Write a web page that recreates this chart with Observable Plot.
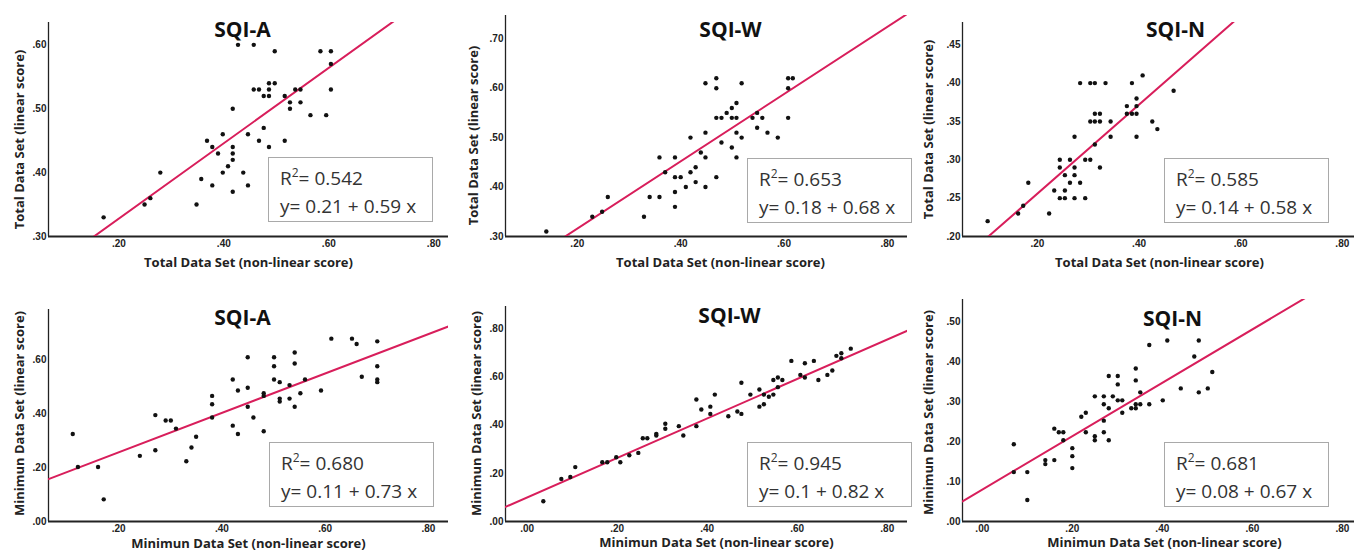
<!DOCTYPE html>
<html>
<head>
<meta charset="utf-8">
<script src="https://cdn.jsdelivr.net/npm/d3@7"></script>
<script src="https://cdn.jsdelivr.net/npm/@observablehq/plot@0.6"></script>
<style>
  body { margin: 0; background: #fff; }
  #chart { position: relative; width: 1354px; height: 552px; overflow: hidden; background: #fff; }
  .panel { position: absolute; }
  .panel svg { display: block; max-width: none; }
  .box { position: absolute; box-sizing: border-box; width: 165px; height: 65px; border: 1px solid #a9a9a9;
         background: #fff; font-family: "Open Sans", sans-serif; font-size: 19px; line-height: 28px;
         padding: 5.5px 0 0 11px; color: #333; white-space: nowrap; }
  .box .sup { font-size: 12px; position: relative; top: -8px; line-height: 0; }
</style>
</head>
<body>
<div id="chart"></div>
<script>
// ---------- data ----------
const panelTitles = ["SQI-A", "SQI-W", "SQI-N", "SQI-A", "SQI-W", "SQI-N"];
const xAxisTitles = [
  "Total Data Set (non-linear score)", "Total Data Set (non-linear score)", "Total Data Set (non-linear score)",
  "Minimun Data Set (non-linear score)", "Minimun Data Set (non-linear score)", "Minimun Data Set (non-linear score)"
];
const yAxisTitles = [
  "Total Data Set (linear score)", "Total Data Set (linear score)", "Total Data Set (linear score)",
  "Minimun Data Set (linear score)", "Minimun Data Set (linear score)", "Minimun Data Set (linear score)"
];
const rSquared = [0.542, 0.653, 0.585, 0.680, 0.945, 0.681];
const intercepts = [0.21, 0.18, 0.14, 0.11, 0.1, 0.08];
const slopes = [0.59, 0.68, 0.58, 0.73, 0.82, 0.67];
const xTicks = [
  [0.2, 0.4, 0.6, 0.8], [0.2, 0.4, 0.6, 0.8], [0.2, 0.4, 0.6, 0.8],
  [0.2, 0.4, 0.6, 0.8], [0, 0.2, 0.4, 0.6, 0.8], [0, 0.2, 0.4, 0.6, 0.8]
];
const yTicks = [
  [0.3, 0.4, 0.5, 0.6], [0.3, 0.4, 0.5, 0.6, 0.7], [0.2, 0.25, 0.3, 0.35, 0.4, 0.45],
  [0, 0.2, 0.4, 0.6], [0, 0.2, 0.4, 0.6, 0.8], [0, 0.1, 0.2, 0.3, 0.4, 0.5]
];

// Total Data Set, SQI-A
const totalA_x = [0.171,0.249,0.260,0.279,0.348,0.357,0.368,0.378,0.378,0.389,0.398,0.398,0.408,0.417,0.417,0.417,0.417,0.417,0.427,0.437,0.446,0.446,0.457,0.457,0.467,0.467,0.476,0.476,0.486,0.486,0.486,0.486,0.497,0.497,0.516,0.516,0.526,0.526,0.536,0.546,0.546,0.565,0.584,0.595,0.604,0.604,0.604];
const totalA_y = [0.33,0.35,0.36,0.40,0.35,0.39,0.45,0.44,0.38,0.43,0.46,0.40,0.41,0.50,0.44,0.43,0.42,0.37,0.60,0.40,0.46,0.38,0.60,0.53,0.53,0.45,0.52,0.47,0.54,0.53,0.52,0.44,0.59,0.54,0.52,0.45,0.51,0.50,0.53,0.53,0.51,0.49,0.59,0.49,0.59,0.57,0.53];
// Total Data Set, SQI-W
const totalW_x = [0.140,0.229,0.248,0.259,0.329,0.340,0.359,0.359,0.370,0.389,0.389,0.389,0.389,0.400,0.410,0.419,0.419,0.429,0.429,0.439,0.448,0.448,0.448,0.448,0.469,0.469,0.469,0.469,0.479,0.479,0.489,0.499,0.499,0.499,0.508,0.508,0.508,0.508,0.518,0.518,0.539,0.548,0.548,0.558,0.568,0.588,0.608,0.608,0.608,0.617];
const totalW_y = [0.31,0.34,0.35,0.38,0.34,0.38,0.46,0.38,0.43,0.46,0.42,0.39,0.36,0.42,0.40,0.50,0.43,0.44,0.41,0.47,0.61,0.51,0.46,0.40,0.62,0.60,0.54,0.42,0.54,0.49,0.55,0.56,0.54,0.48,0.57,0.54,0.51,0.46,0.61,0.50,0.54,0.55,0.52,0.54,0.51,0.50,0.62,0.60,0.54,0.62];
// Total Data Set, SQI-N
const totalN_x = [0.102,0.162,0.172,0.182,0.223,0.233,0.244,0.244,0.244,0.254,0.254,0.254,0.264,0.264,0.273,0.273,0.273,0.273,0.284,0.284,0.294,0.294,0.304,0.304,0.304,0.313,0.313,0.313,0.313,0.323,0.323,0.323,0.334,0.344,0.344,0.376,0.376,0.386,0.386,0.395,0.395,0.395,0.395,0.407,0.426,0.436,0.468];
const totalN_y = [0.22,0.23,0.24,0.27,0.23,0.26,0.30,0.29,0.25,0.28,0.26,0.25,0.30,0.27,0.33,0.29,0.28,0.25,0.40,0.27,0.30,0.25,0.40,0.35,0.30,0.40,0.36,0.32,0.35,0.36,0.35,0.29,0.40,0.35,0.33,0.37,0.36,0.40,0.36,0.38,0.37,0.36,0.33,0.41,0.35,0.34,0.39];
// Minimum Data Set, SQI-A
const minA_x = [0.111,0.121,0.160,0.171,0.241,0.271,0.271,0.291,0.301,0.311,0.331,0.341,0.350,0.381,0.381,0.381,0.421,0.421,0.431,0.431,0.450,0.450,0.450,0.461,0.481,0.481,0.481,0.501,0.501,0.501,0.512,0.512,0.512,0.531,0.531,0.541,0.541,0.541,0.552,0.561,0.592,0.612,0.652,0.661,0.671,0.701,0.701,0.701,0.701];
const minA_y = [0.324,0.202,0.202,0.082,0.243,0.394,0.264,0.374,0.374,0.344,0.223,0.274,0.314,0.465,0.434,0.385,0.526,0.355,0.485,0.324,0.608,0.495,0.425,0.385,0.475,0.465,0.334,0.608,0.575,0.526,0.516,0.455,0.444,0.505,0.455,0.626,0.585,0.425,0.475,0.526,0.485,0.677,0.677,0.657,0.536,0.667,0.575,0.526,0.516];
// Minimum Data Set, SQI-W
const minW_x = [0.036,0.076,0.096,0.107,0.167,0.178,0.198,0.207,0.227,0.247,0.257,0.267,0.287,0.287,0.307,0.307,0.337,0.347,0.376,0.376,0.387,0.407,0.407,0.417,0.447,0.467,0.476,0.476,0.496,0.516,0.516,0.526,0.526,0.537,0.547,0.547,0.557,0.557,0.567,0.587,0.607,0.617,0.617,0.637,0.647,0.667,0.678,0.687,0.698,0.698,0.719];
const minW_y = [0.084,0.177,0.185,0.226,0.246,0.246,0.267,0.246,0.275,0.285,0.346,0.346,0.364,0.357,0.406,0.385,0.396,0.357,0.507,0.396,0.465,0.477,0.447,0.527,0.437,0.457,0.576,0.447,0.527,0.548,0.477,0.527,0.487,0.518,0.527,0.588,0.598,0.558,0.588,0.667,0.609,0.657,0.598,0.667,0.588,0.609,0.627,0.688,0.699,0.678,0.718];
// Minimum Data Set, SQI-N
const minN_x = [0.070,0.070,0.100,0.100,0.140,0.140,0.160,0.160,0.170,0.180,0.180,0.200,0.200,0.200,0.220,0.230,0.230,0.250,0.250,0.250,0.270,0.270,0.270,0.270,0.281,0.281,0.281,0.290,0.301,0.301,0.301,0.311,0.311,0.331,0.341,0.341,0.341,0.341,0.351,0.351,0.371,0.371,0.401,0.411,0.441,0.471,0.481,0.481,0.501,0.511];
const minN_y = [0.194,0.124,0.124,0.054,0.154,0.144,0.233,0.154,0.224,0.224,0.204,0.184,0.164,0.134,0.263,0.273,0.224,0.314,0.214,0.204,0.314,0.294,0.253,0.224,0.365,0.284,0.204,0.314,0.365,0.344,0.304,0.304,0.273,0.284,0.384,0.354,0.294,0.284,0.324,0.294,0.443,0.294,0.304,0.454,0.334,0.414,0.454,0.324,0.334,0.375];

const seriesX = [totalA_x, totalW_x, totalN_x, minA_x, minW_x, minN_x];
const seriesY = [totalA_y, totalW_y, totalN_y, minA_y, minW_y, minN_y];

// ---------- layout (pixels / scale extents) ----------
const layout = [
  {left: 0,   top: 0,   width: 450, mL: 48, mR: 2, mT: 22, mB: 40, xd: [0.066, 0.828], yd: [0.30, 0.635], title: [242, 30], xt: [248, 262], yt: [19, 139], box: [268, 157]},
  {left: 450, top: 0,   width: 457, mL: 55, mR: 0, mT: 15, mB: 40, xd: [0.061, 0.839], yd: [0.30, 0.747], title: [280, 30], xt: [270, 262], yt: [23, 135], box: [747, 158]},
  {left: 900, top: 0,   width: 454, mL: 62, mR: 0, mT: 22, mB: 40, xd: [0.0525, 0.824], yd: [0.20, 0.479], title: [275, 30], xt: [259, 262], yt: [28, 129], box: [1164, 158]},
  {left: 0,   top: 276, width: 450, mL: 48, mR: 2, mT: 33, mB: 31, xd: [0.064, 0.839], yd: [0, 0.785], title: [242, 42], xt: [248, 267], yt: [19, 137], box: [269, 442]},
  {left: 450, top: 276, width: 457, mL: 55, mR: 0, mT: 30, mB: 31, xd: [-0.048, 0.845], yd: [0, 0.893], title: [279, 40], xt: [266, 266], yt: [26, 137], box: [747, 442]},
  {left: 900, top: 276, width: 454, mL: 62, mR: 0, mT: 23, mB: 31, xd: [-0.044, 0.827], yd: [0, 0.557], title: [272, 43], xt: [264, 266], yt: [28, 136], box: [1164, 442]}
];

const tickFmt = d => d3.format(".2f")(d).replace(/^0/, "");
const chart = document.getElementById("chart");

layout.forEach((L, i) => {
  const pts = seriesX[i].map((x, j) => ({x, y: seriesY[i][j]}));
  const a = intercepts[i], b = slopes[i];
  const fit = L.xd.map(x => ({x, y: a + b * x}));

  const svg = Plot.plot({
    width: L.width, height: 276,
    marginLeft: L.mL, marginRight: L.mR, marginTop: L.mT, marginBottom: L.mB,
    x: {domain: L.xd, axis: null},
    y: {domain: L.yd, axis: null},
    style: {fontFamily: "'Open Sans', sans-serif", fontWeight: "bold", background: "transparent", overflow: "visible", color: "#222"},
    marks: [
      Plot.axisX({ticks: xTicks[i], tickFormat: tickFmt, tickSize: 0, tickPadding: 3, fontSize: 10,
                  fontFamily: "'Liberation Sans', Arial, sans-serif", fill: "#222", label: null}),
      Plot.axisY({ticks: yTicks[i], tickFormat: tickFmt, tickSize: 0, tickPadding: 2, fontSize: 10,
                  fontFamily: "'Liberation Sans', Arial, sans-serif", fill: "#222", label: null}),
      Plot.ruleY([L.yd[0]], {stroke: "#222", strokeWidth: 1.8}),
      Plot.ruleX([L.xd[0]], {stroke: "#222", strokeWidth: 1.3}),
      Plot.line(fit, {x: "x", y: "y", stroke: "#d81e5b", strokeWidth: 2, clip: true}),
      Plot.dot(pts, {x: "x", y: "y", r: 2.2, fill: "#111", stroke: "none"}),
      Plot.text([panelTitles[i]], {text: d => d, frameAnchor: "top-left", textAnchor: "middle", lineAnchor: "middle",
                  dx: L.title[0] - L.mL, dy: L.title[1] - L.mT, fontSize: 21, fill: "#111"}),
      Plot.text([xAxisTitles[i]], {text: d => d, frameAnchor: "top-left", textAnchor: "middle", lineAnchor: "middle",
                  dx: L.xt[0] - L.mL, dy: L.xt[1] - L.mT, fontSize: 13, fill: "#222"}),
      Plot.text([yAxisTitles[i]], {text: d => d, frameAnchor: "top-left", textAnchor: "middle", lineAnchor: "middle", rotate: -90,
                  dx: L.yt[0] - L.mL, dy: L.yt[1] - L.mT, fontSize: 13, fill: "#222"})
    ]
  });

  const holder = document.createElement("div");
  holder.className = "panel";
  holder.style.left = L.left + "px";
  holder.style.top = L.top + "px";
  holder.style.width = L.width + "px";
  holder.style.height = "276px";
  holder.appendChild(svg);
  chart.appendChild(holder);

  const box = document.createElement("div");
  box.className = "box";
  box.style.left = L.box[0] + "px";
  box.style.top = L.box[1] + "px";
  box.innerHTML = `R<span class="sup">2</span>= ${rSquared[i].toFixed(3)}<br>y= ${a} + ${b} x`;
  chart.appendChild(box);
});
</script>
</body>
</html>
